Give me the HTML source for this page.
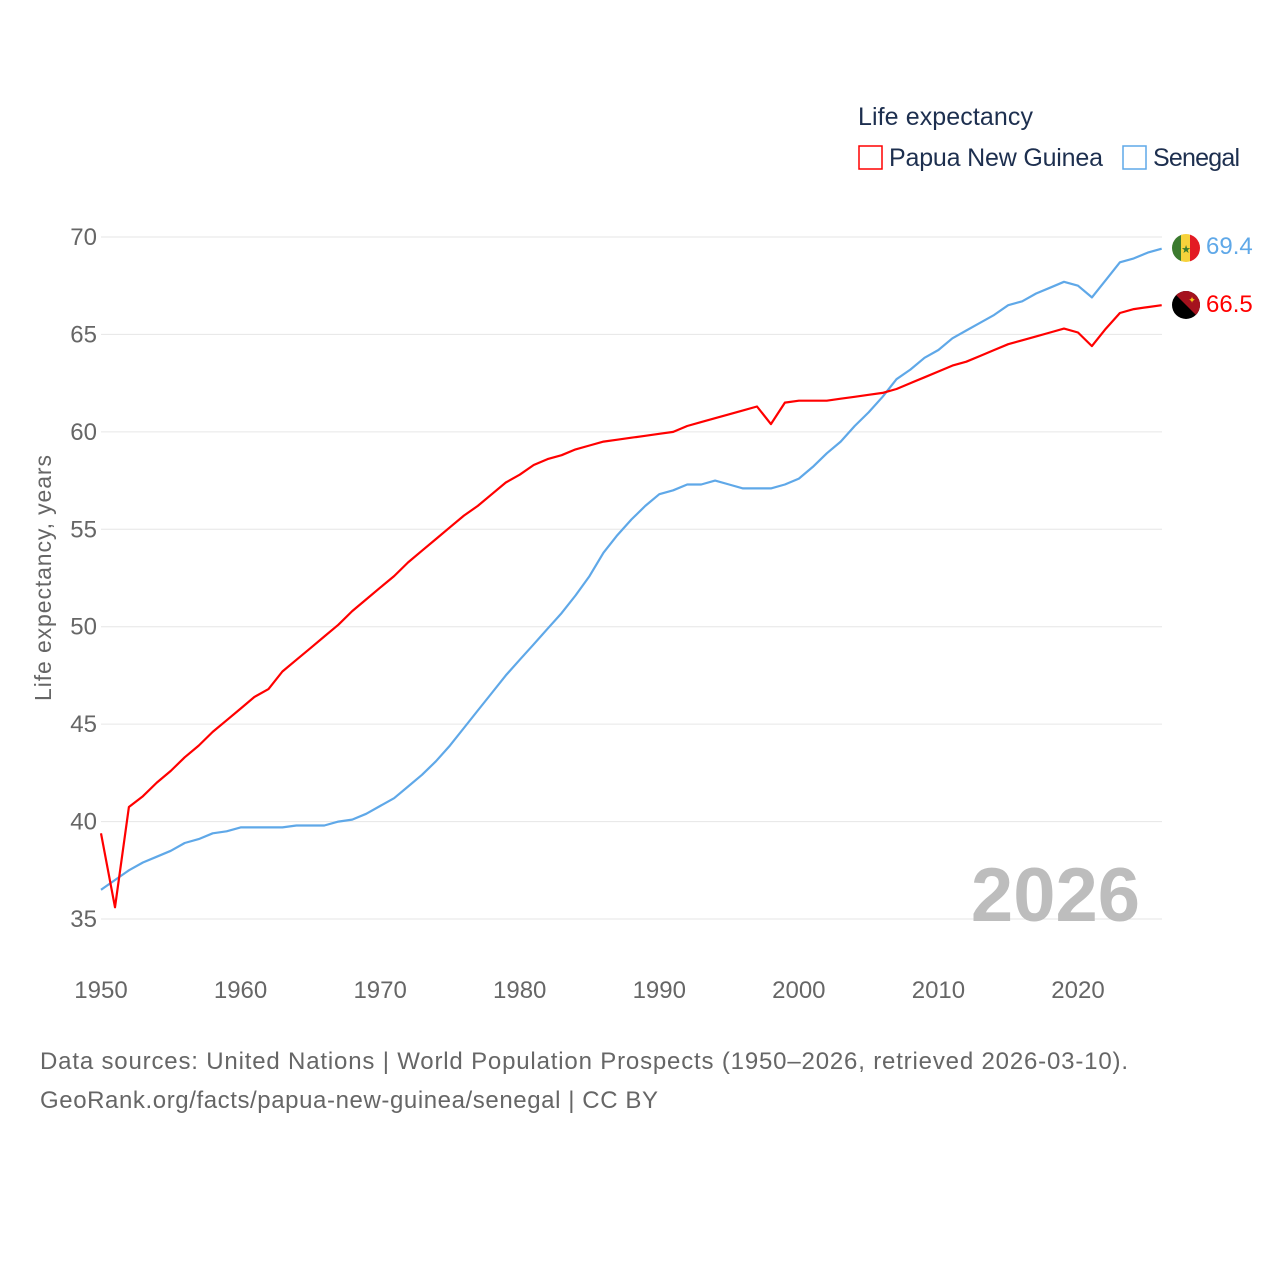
<!DOCTYPE html>
<html><head><meta charset="utf-8"><style>
body{margin:0;background:#fff;}
svg text{font-family:"Liberation Sans",sans-serif;}
</style></head><body>
<svg id="chart" width="1280" height="1280" viewBox="0 0 1280 1280" xmlns="http://www.w3.org/2000/svg">
<rect width="1280" height="1280" fill="#fff"/>
<text x="858" y="125" font-size="25" fill="#1d2f4f" textLength="175">Life expectancy</text>
<g>
<rect x="859" y="146" width="23" height="23" fill="none" stroke="#ff0000" stroke-width="1.5"/>
<text x="889" y="166" font-size="25" fill="#1d2f4f" textLength="214">Papua New Guinea</text></g>
<g>
<rect x="1123" y="146" width="23" height="23" fill="none" stroke="#5fa8e8" stroke-width="1.5"/>
<text x="1153" y="166" font-size="25" fill="#1d2f4f" textLength="87">Senegal</text></g>
<g id="grid"></g><g id="yt"></g><g id="xt"></g>
<text transform="translate(51,578) rotate(-90)" text-anchor="middle" font-size="23" fill="#666" textLength="246">Life expectancy, years</text>
<text x="1140" y="921" text-anchor="end" font-size="76" font-weight="bold" fill="#bdbdbd">2026</text>
<g id="series"></g>
<g>
<clipPath id="c1"><circle cx="1186" cy="248" r="14"/></clipPath>
<g clip-path="url(#c1)"><rect x="1172" y="234" width="10" height="28" fill="#3b7a2e"/><rect x="1181" y="234" width="10" height="28" fill="#f7d23b"/><rect x="1190" y="234" width="10" height="28" fill="#e31b23"/></g>
<text x="1186" y="253" text-anchor="middle" font-size="11" fill="#3b7a2e">★</text></g>
<g>
<clipPath id="c2"><circle cx="1186" cy="305" r="14"/></clipPath>
<g clip-path="url(#c2)"><rect x="1172" y="291" width="28" height="28" fill="#000"/><polygon points="1172,291 1200,291 1200,319" fill="#a5121e"/></g>
<text x="1192" y="303" text-anchor="middle" font-size="9" fill="#f5c518">✦</text></g>
<text x="1206" y="254" font-size="24" fill="#5fa8e8">69.4</text>
<text x="1206" y="312" font-size="24" fill="#ff0000">66.5</text>
<text x="40" y="1069" font-size="24" fill="#666" textLength="1088">Data sources: United Nations | World Population Prospects (1950–2026, retrieved 2026-03-10).</text>
<text x="40" y="1108" font-size="24" fill="#666" textLength="618">GeoRank.org/facts/papua-new-guinea/senegal | CC BY</text>
</svg>
<script>
const startYear = 1950;
const yTicks = [35,40,45,50,55,60,65,70];
const xTicks = [1950,1960,1970,1980,1990,2000,2010,2020];
const png = [39.4,35.6,40.75,41.3,42.0,42.6,43.3,43.9,44.6,45.2,45.8,46.4,46.8,47.7,48.3,48.9,49.5,50.1,50.8,51.4,52.0,52.6,53.3,53.9,54.5,55.1,55.7,56.2,56.8,57.4,57.8,58.3,58.6,58.8,59.1,59.3,59.5,59.6,59.7,59.8,59.9,60.0,60.3,60.5,60.7,60.9,61.1,61.3,60.4,61.5,61.6,61.6,61.6,61.7,61.8,61.9,62.0,62.2,62.5,62.8,63.1,63.4,63.6,63.9,64.2,64.5,64.7,64.9,65.1,65.3,65.1,64.4,65.3,66.1,66.3,66.4,66.5];
const senegal = [36.5,37.0,37.5,37.9,38.2,38.5,38.9,39.1,39.4,39.5,39.7,39.7,39.7,39.7,39.8,39.8,39.8,40.0,40.1,40.4,40.8,41.2,41.8,42.4,43.1,43.9,44.8,45.7,46.6,47.5,48.3,49.1,49.9,50.7,51.6,52.6,53.8,54.7,55.5,56.2,56.8,57.0,57.3,57.3,57.5,57.3,57.1,57.1,57.1,57.3,57.6,58.2,58.9,59.5,60.3,61.0,61.8,62.7,63.2,63.8,64.2,64.8,65.2,65.6,66.0,66.5,66.7,67.1,67.4,67.7,67.5,66.9,67.8,68.7,68.9,69.2,69.4];
const X = y => 101 + (y - 1950) * 13.957;
const Y = v => 237 + (70 - v) * 19.486;
const NS = "http://www.w3.org/2000/svg";
function mk(tag, attrs, parent, text){const e=document.createElementNS(NS,tag);for(const k in attrs)e.setAttribute(k,attrs[k]);if(text!==undefined)e.textContent=text;parent.appendChild(e);return e;}
const grid=document.getElementById('grid'), yt=document.getElementById('yt'), xt=document.getElementById('xt'), series=document.getElementById('series');
yTicks.forEach(v=>{
  const l=mk('line',{x1:101,x2:1162,y1:Y(v),y2:Y(v),stroke:'#e6e6e6','stroke-width':1},grid);
  
  
  const t=mk('text',{x:97,y:Y(v)+8,'text-anchor':'end','font-size':24,fill:'#666'},yt,String(v));
  
  
});
xTicks.forEach(y=>{
  const t=mk('text',{x:X(y),y:998,'text-anchor':'middle','font-size':24,fill:'#666'},xt,String(y));
  
  
});
function line(data,color,name){
  const d=data.map((v,i)=>(i?'L':'M')+X(startYear+i).toFixed(1)+','+Y(v).toFixed(1)).join('');
  const p=mk('path',{d:d,fill:'none',stroke:color,'stroke-width':2.2,'stroke-linejoin':'round'},series);
  
  
}
line(senegal,'#5fa8e8','line-senegal');
line(png,'#ff0000','line-png');
</script>
</body></html>
